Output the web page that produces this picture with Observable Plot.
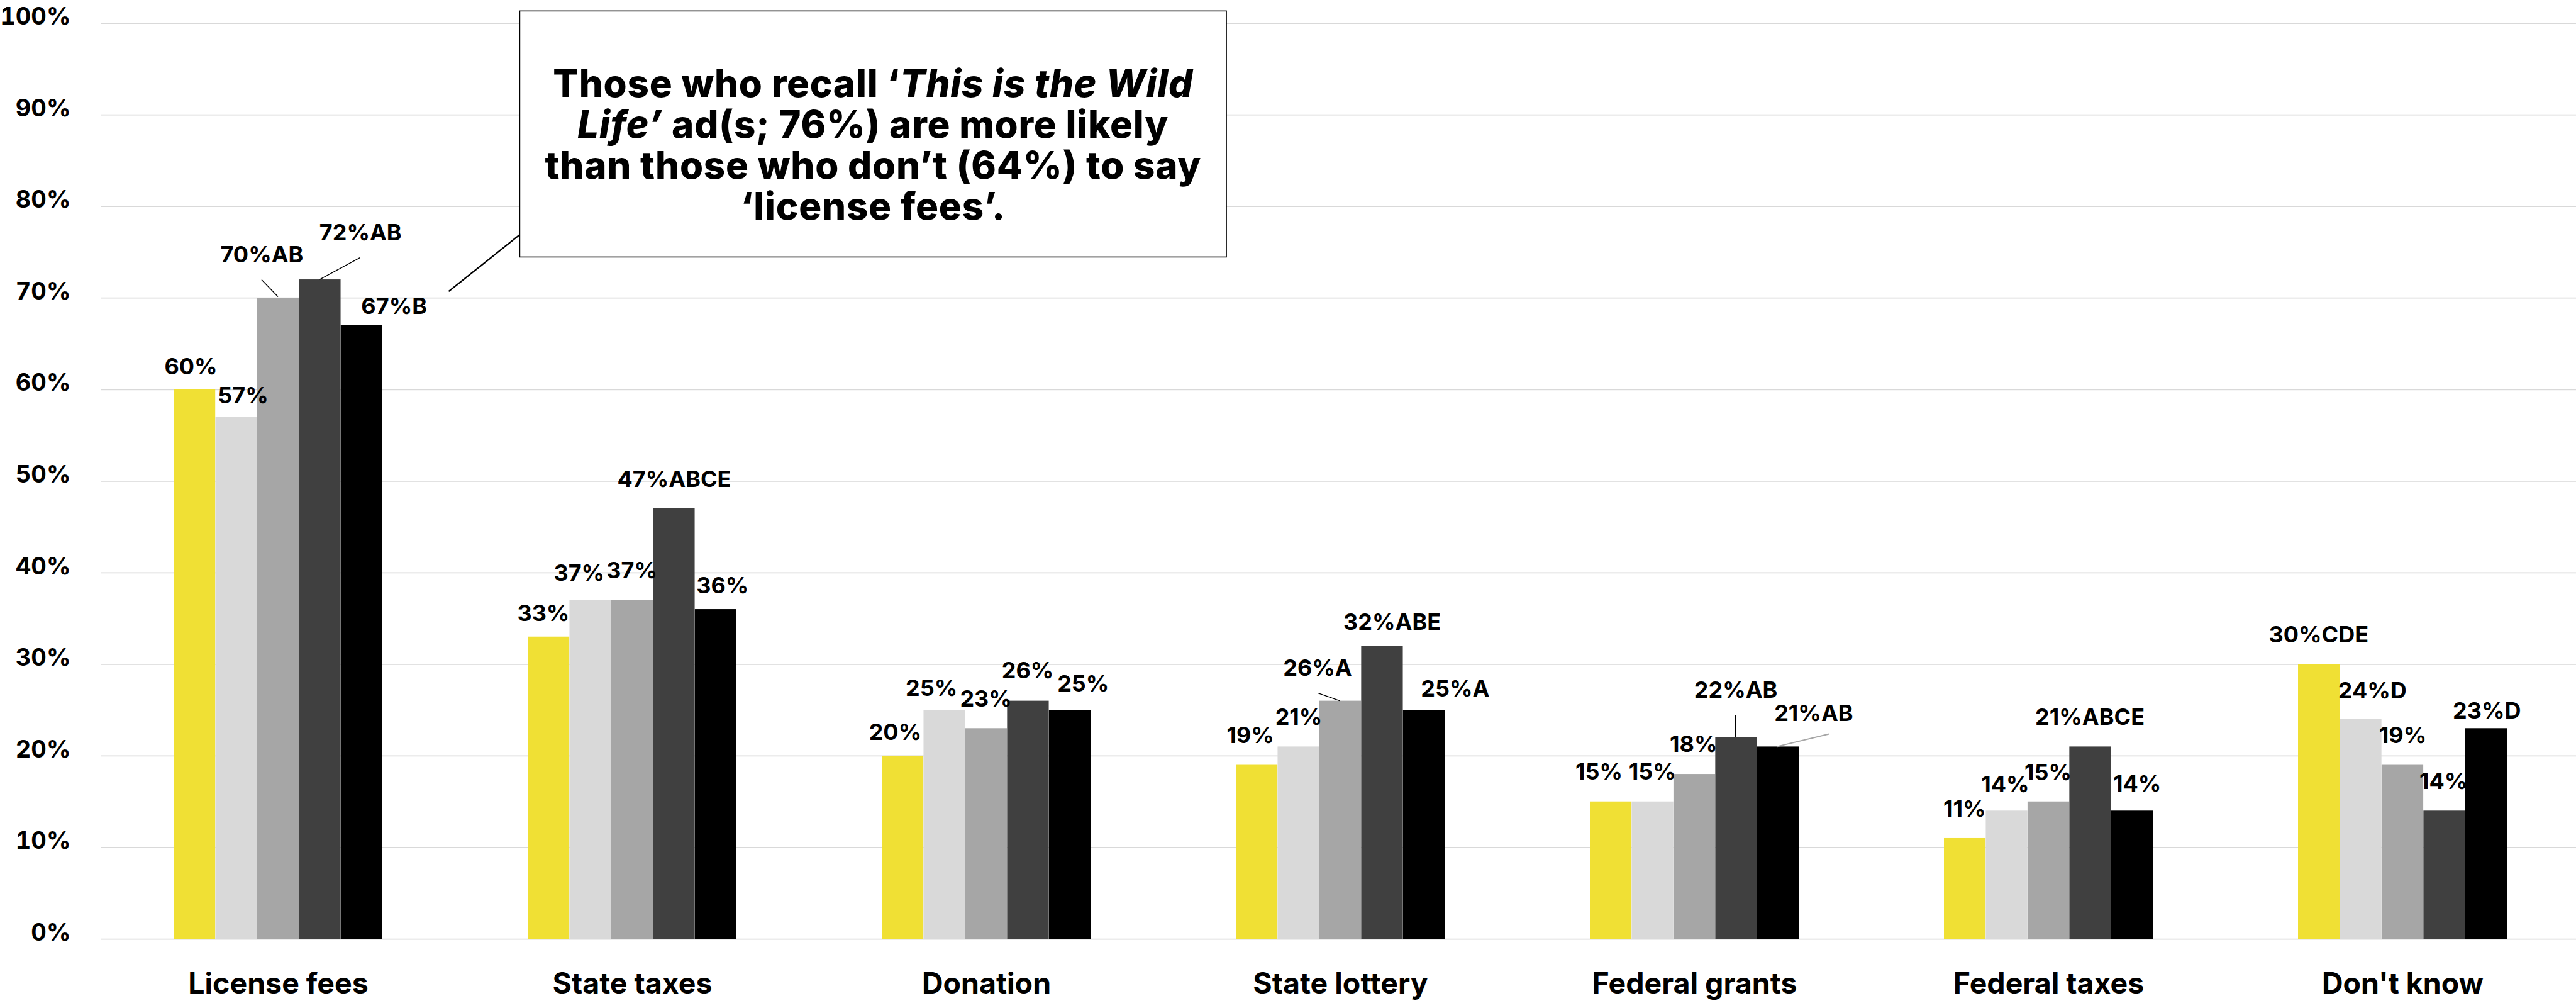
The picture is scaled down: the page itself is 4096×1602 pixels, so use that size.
<!DOCTYPE html>
<html>
<head>
<meta charset="utf-8">
<script src="https://cdn.jsdelivr.net/npm/d3@7"></script>
<script src="https://cdn.jsdelivr.net/npm/@observablehq/plot@0.6"></script>
<style>
  html, body { margin: 0; padding: 0; background: #ffffff; overflow: hidden; }
  #chart { position: relative; width: 4096px; height: 1602px; }
  #chart svg { overflow: hidden; }
</style>
</head>
<body>
<div id="chart"></div>
<script>
// ---------- DATA ----------
const categories = ["License fees", "State taxes", "Donation", "State lottery", "Federal grants", "Federal taxes", "Don't know"];
const seriesNames = ["A", "B", "C", "D", "E"];
const valuesA = [60, 33, 20, 19, 15, 11, 30];
const valuesB = [57, 37, 25, 21, 15, 14, 24];
const valuesC = [70, 37, 23, 26, 18, 15, 19];
const valuesD = [72, 47, 26, 32, 22, 21, 14];
const valuesE = [67, 36, 25, 25, 21, 14, 23];
const sigA = ["", "", "", "", "", "", "CDE"];
const sigB = ["", "", "", "", "", "", "D"];
const sigC = ["AB", "", "", "A", "", "", ""];
const sigD = ["AB", "ABCE", "", "ABE", "AB", "ABCE", ""];
const sigE = ["B", "", "", "A", "AB", "", "D"];
const yTicks = [0, 10, 20, 30, 40, 50, 60, 70, 80, 90, 100];

const calloutLines = [
  [["Those who recall \u2018", false], ["This is the Wild", true]],
  [["Life\u2019", true], [" ad(s; 76%) are more likely", false]],
  [["than those who don\u2019t (64%) to say", false]],
  [["\u2018license fees\u2019.", false]]
];

// ---------- LAYOUT (reference pixels, scaled by S) ----------
const S = 0.869;
const colors = ["#F0E034", "#D9D9D9", "#A6A6A6", "#404040", "#000000"];
// label centre offsets from each bar's top-centre, per series, per category
const nudgeA = [[-7,-41],[-10,-42],[-14,-43],[-12,-53],[-22,-54],[-1,-53],[-1,-54]];
const nudgeB = [[12,-38],[-21,-49],[-24,-39],[0,-54],[-1,-54],[-3,-48],[21,-51]];
const nudgeC = [[-30,-79],[-1,-54],[-1,-53],[-42,-60],[-2,-54],[-1,-53],[0,-54]];
const nudgeD = [[74,-85],[0,-53],[-1,-55],[18,-43],[-1,-86],[-1,-53],[-2,-53]];
const nudgeE = [[59,-34],[12,-43],[24,-47],[57,-38],[65,-60],[9,-49],[1,-32]];
// leader lines: [category index, series index, from, to, colour, width]
const leaders = [
  [0, 2, [-30,-33], [0,-2], "#000000", 1.4],
  [0, 3, [74,-40], [0,0], "#000000", 1.4],
  [3, 2, [-41,-14], [-1,0], "#000000", 1.4],
  [4, 3, [-1,-41], [-1,-1], "#000000", 1.4],
  [4, 4, [94,-23], [-1,0], "#A6A6A6", 2]
];

const allValues = [valuesA, valuesB, valuesC, valuesD, valuesE];
const allSig = [sigA, sigB, sigC, sigD, sigE];
const allNudge = [nudgeA, nudgeB, nudgeC, nudgeD, nudgeE];

const rows = [];
allValues.forEach((vals, s) => {
  vals.forEach((v, i) => {
    rows.push({category: categories[i], series: seriesNames[s], s, i, value: v,
               label: v + "%" + allSig[s][i], nx: allNudge[s][i][0], ny: allNudge[s][i][1]});
  });
});

const W = 4096, H = 1602;
const ML = 160, MR = -6, MT = 42 * S, MB = H - 1717 * S;
const PAD_IN = 0.41, PAD_OUT = 0.205;
const step = (W - ML - MR) / categories.length;
const bandW = step * (1 - PAD_IN);
const barW = bandW / seriesNames.length;
const FONT = "Inter, 'Noto Sans', 'DejaVu Sans', sans-serif";

const marks = [
  Plot.ruleY(yTicks, {stroke: "#D9D9D9", strokeWidth: 1.8}),
  ...seriesNames.map((name, s) => Plot.barY(rows.filter(r => r.s === s), {
    x: "category", y: "value", fill: colors[s],
    insetLeft: s * barW, insetRight: (seriesNames.length - 1 - s) * barW
  })),
  Plot.axisY({ticks: yTicks, tickFormat: d => d + "%", tickSize: 0, tickPadding: 48,
              fontSize: 38, fontWeight: 700, dy: -10, label: null, fill: "#000"}),
  Plot.axisX({tickSize: 0, tickPadding: 53, fontSize: 46.5, fontWeight: 700, label: null, fill: "#000"}),
  ...rows.map(r => Plot.text([r], {
    x: "category", y: "value", text: "label",
    dx: (r.s - 2) * barW + r.nx * S, dy: r.ny * S,
    fontSize: 36, fontWeight: 700, fill: "#000", lineAnchor: "middle"
  }))
];

const plot = Plot.plot({
  width: W, height: H,
  marginLeft: ML, marginRight: MR, marginTop: MT, marginBottom: MB,
  x: {domain: categories, paddingInner: PAD_IN, paddingOuter: PAD_OUT, axis: null},
  y: {domain: [0, 100], axis: null},
  style: {fontFamily: FONT, fontWeight: 700, color: "#000", background: "#fff", overflow: "hidden"},
  marks
});

document.getElementById("chart").appendChild(plot);
const svgEl = plot.tagName.toLowerCase() === "svg" ? plot : plot.querySelector("svg");
const svg = d3.select(svgEl);

// scales for annotations
const xs = plot.scale("x"), ys = plot.scale("y");
const xBand = d3.scaleBand().domain(categories).range([ML, W - MR]).paddingInner(PAD_IN).paddingOuter(PAD_OUT);
const xStart = c => (xs && xs.apply) ? xs.apply(c) : xBand(c);
const bwNow = (xs && xs.bandwidth) ? xs.bandwidth : xBand.bandwidth();
const yPos = v => (ys && ys.apply) ? ys.apply(v) : (H - MB) - (H - MB - MT) * v / 100;
const bw5 = bwNow / seriesNames.length;

const g = svg.append("g").attr("class", "annotations");
leaders.forEach(([ci, s, from, to, col, sw]) => {
  const cx = xStart(categories[ci]) + (s + 0.5) * bw5;
  const cy = yPos(allValues[s][ci]);
  g.append("line")
    .attr("x1", cx + from[0] * S).attr("y1", cy + from[1] * S)
    .attr("x2", cx + to[0] * S).attr("y2", cy + to[1] * S)
    .attr("stroke", col).attr("stroke-width", sw);
});

// callout box
const box = {x0: 951 * S, y0: 20 * S, x1: 2244 * S, y1: 470 * S};
g.append("line")
  .attr("x1", 950 * S).attr("y1", 430 * S).attr("x2", 821 * S).attr("y2", 533 * S)
  .attr("stroke", "#000").attr("stroke-width", 2.4);
g.append("rect")
  .attr("x", box.x0).attr("y", box.y0)
  .attr("width", box.x1 - box.x0).attr("height", box.y1 - box.y0)
  .attr("fill", "#fff").attr("stroke", "#000").attr("stroke-width", 1.6);
const baselines = [177, 252, 327, 402];
const cxText = (box.x0 + box.x1) / 2;
const textEls = [];
calloutLines.forEach((parts, li) => {
  const t = g.append("text")
    .attr("x", cxText).attr("y", baselines[li] * S)
    .attr("text-anchor", "middle")
    .attr("font-family", FONT).attr("font-weight", 800).attr("font-size", 60)
    .attr("fill", "#000");
  parts.forEach(([str, ital]) => {
    t.append("tspan").text(str).attr("font-style", ital ? "italic" : "normal");
  });
  textEls.push(t);
});
// adjust letter spacing so line 1 matches the reference width (~1017px)
try {
  const w1 = textEls[0].node().getComputedTextLength();
  const target = 1017;
  const n = calloutLines[0].map(p => p[0]).join("").length;
  const ls = Math.max(-2, Math.min(4, (target - w1) / (n - 1)));
  textEls.forEach(t => t.attr("letter-spacing", ls));
} catch (e) {}
</script>
</body>
</html>
